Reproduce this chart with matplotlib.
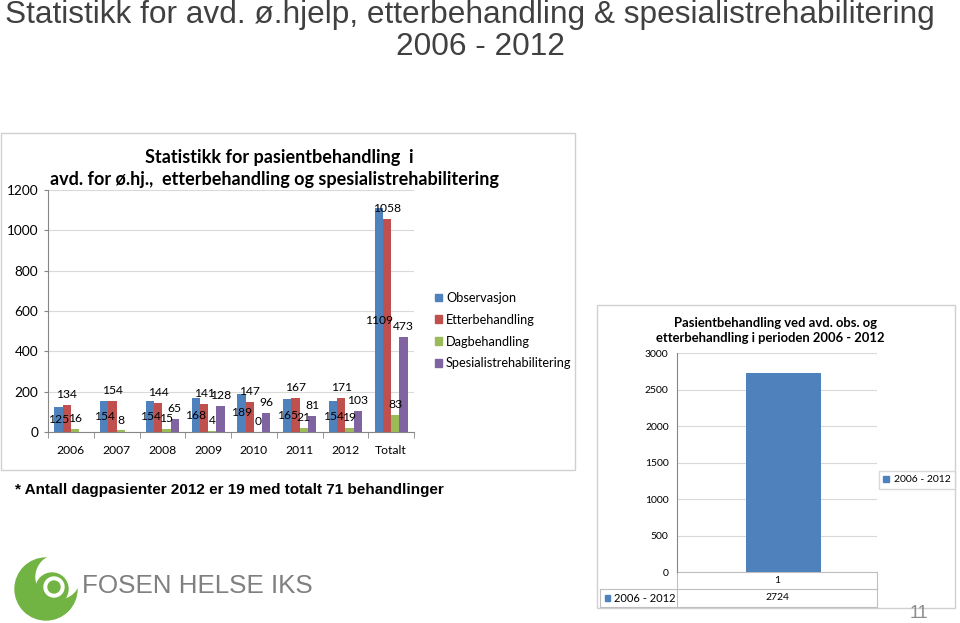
import numpy as np
import matplotlib
matplotlib.use("Agg")
import matplotlib.pyplot as plt
from matplotlib.patches import Rectangle, Circle, Patch

W, H = 960, 623

# data -----------------------------------------------------------------
years = ["2006", "2007", "2008", "2009", "2010", "2011", "2012", "Totalt"]
series_names = ["Observasjon", "Etterbehandling", "Dagbehandling",
                "Spesialistrehabilitering"]
observasjon = [125, 154, 154, 168, 189, 165, 154, 1109]
etterbehandling = [134, 154, 144, 141, 147, 167, 171, 1058]
dagbehandling = [16, 8, 15, 4, 0, 21, 19, 83]
spesialist = [None, None, 65, 128, 96, 81, 103, 473]

period_label = "2006 - 2012"
period_category = ["1"]
period_total = [2724]

# Excel 2007 palette
_COLOURS = ["#4F81BD", "#C0504D", "#9BBB59", "#8064A2"]
_GRID = "#D9D9D9"
_AXIS = "#868686"
CHART_FONT = ["Lato", "DejaVu Sans"]
SLIDE_FONT = ["Liberation Sans", "DejaVu Sans"]


def rect(x0, y0, x1, y1):
    """pixel box (y down) -> figure fraction rect"""
    return [x0 / W, 1 - y1 / H, (x1 - x0) / W, (y1 - y0) / H]


plt.rcParams["font.family"] = CHART_FONT
fig = plt.figure(figsize=(W / 100, H / 100), dpi=100)

# background layer in pixel coordinates
bg = fig.add_axes([0, 0, 1, 1])
bg.set_xlim(0, W)
bg.set_ylim(H, 0)
bg.axis("off")
bg.set_zorder(0)

bg.add_patch(Rectangle((1, 133), 574, 337, fill=False, ec="#D0D0D0", lw=1))
bg.add_patch(Rectangle((597, 305), 358, 303, fill=False, ec="#D0D0D0", lw=1))

# slide title and footnote
bg.text(5, 15, "Statistikk for avd. ø.hjelp, etterbehandling & spesialistrehabilitering",
        family=SLIDE_FONT, fontsize=22.8, color="#404040", ha="left", va="center")
bg.text(480, 47, "2006 - 2012", family=SLIDE_FONT, fontsize=22.8,
        color="#404040", ha="center", va="center")
bg.text(15, 490, "* Antall dagpasienter 2012 er 19 med totalt 71 behandlinger",
        family=SLIDE_FONT, fontsize=11, weight="bold", color="black",
        ha="left", va="center")
bg.text(919, 614, "11", family=SLIDE_FONT, fontsize=13, color="#8C8C8C",
        ha="center", va="center")

# logo
green = "#72B443"
bg.add_patch(Circle((46, 589), 31, color=green))
bg.add_patch(Circle((58, 577), 22, color="white"))
bg.add_patch(Circle((52, 589), 16, color=green))
bg.add_patch(Circle((54, 587), 10, color="white"))
bg.add_patch(Circle((54, 587), 6, color=green))
bg.text(82, 586, "FOSEN HELSE IKS", family=SLIDE_FONT, fontsize=18.7,
        color="#808080", ha="left", va="center")

# chart titles
bg.text(279, 157, "Statistikk for pasientbehandling  i", fontsize=13,
        weight="bold", ha="center", va="center")
bg.text(274, 180, "avd. for ø.hj.,  etterbehandling og spesialistrehabilitering",
        fontsize=13, weight="bold", ha="center", va="center")
bg.text(776, 323, "Pasientbehandling ved avd. obs. og", fontsize=9.4,
        weight="bold", ha="center", va="center")
bg.text(770, 338, "etterbehandling i perioden 2006 - 2012", fontsize=9.4,
        weight="bold", ha="center", va="center")

# left chart ----------------------------------------------------------
ax = fig.add_axes(rect(48, 190, 414, 432))
ax.set_zorder(2)
ax.set_facecolor("none")
x = np.arange(len(years))
bw = 0.18
all_series = [observasjon, etterbehandling, dagbehandling, spesialist]
for i, (vals, col) in enumerate(zip(all_series, _COLOURS)):
    xs = x + (i - 1.5) * bw
    v = np.array([np.nan if a is None else a for a in vals], dtype=float)
    ax.bar(xs, v, bw, color=col, zorder=3)
    for xi, val in zip(xs, vals):
        if val is None:
            continue
        if i == 0:
            ax.text(xi, val / 2, str(val), ha="center", va="center",
                    fontsize=8.7, zorder=4)
        else:
            ax.annotate(str(val), (xi, val), xytext=(0, 3.5),
                        textcoords="offset points", ha="center", va="bottom",
                        fontsize=8.7, zorder=4)

ax.set_xlim(-0.5, len(years) - 0.5)
ax.set_ylim(0, 1200)
ax.set_yticks(range(0, 1201, 200))
ax.set_xticks(x)
ax.set_xticklabels(years)
ax.set_xticks(np.arange(-0.5, len(years), 1), minor=True)
ax.tick_params(axis="x", which="major", length=0, pad=9, labelsize=8.7)
ax.tick_params(axis="x", which="minor", length=4, color=_AXIS)
ax.tick_params(axis="y", length=3, color=_AXIS, pad=4, labelsize=9.8)
ax.yaxis.grid(True, color=_GRID, lw=0.8, zorder=0)
ax.set_axisbelow(True)
for s in ("top", "right"):
    ax.spines[s].set_visible(False)
for s in ("left", "bottom"):
    ax.spines[s].set_color(_AXIS)

handles = [Patch(color=c, label=n) for c, n in zip(_COLOURS, series_names)]
ax.legend(handles=handles, loc="upper left", bbox_to_anchor=(430 / W, 1 - 287 / H),
          bbox_transform=fig.transFigure, frameon=False, fontsize=9.2,
          handlelength=0.55, handleheight=0.55, handletextpad=0.3,
          labelspacing=0.76, borderaxespad=0)

# right chart ---------------------------------------------------------
ax2 = fig.add_axes(rect(677, 353, 877, 572))
ax2.set_zorder(2)
ax2.set_facecolor("none")
x2 = np.arange(len(period_category))
ax2.bar(x2 + 0.03, period_total, 0.375, color=_COLOURS[0], zorder=3)
ax2.set_xlim(-0.5, 0.5)
ax2.set_ylim(0, 3000)
ax2.set_yticks(range(0, 3001, 500))
ax2.set_xticks([])
ax2.tick_params(axis="y", length=0, pad=6, labelsize=7.5)
ax2.yaxis.grid(True, color=_GRID, lw=0.8, zorder=0)
ax2.set_axisbelow(True)
for s in ("top", "right", "bottom"):
    ax2.spines[s].set_visible(False)
ax2.spines["left"].set_color(_AXIS)

# data table under the right chart
ph = 219.0
r1, r2 = -17 / ph, -35 / ph
xl = -77 / 200.0
tkw = dict(transform=ax2.transAxes, clip_on=False, color="#BFBFBF", lw=0.8)
ax2.plot([0, 1], [0, 0], **tkw)
ax2.plot([xl, 1], [r1, r1], **tkw)
ax2.plot([xl, 1], [r2, r2], **tkw)
ax2.plot([0, 0], [0, r2], **tkw)
ax2.plot([1, 1], [0, r2], **tkw)
ax2.plot([xl, xl], [r1, r2], **tkw)
ax2.text(0.5, r1 / 2, period_category[0], transform=ax2.transAxes,
         ha="center", va="center", fontsize=7.5)
ax2.text(0.5, (r1 + r2) / 2, str(period_total[0]), transform=ax2.transAxes,
         ha="center", va="center", fontsize=7.5)
ax2.text(xl + 0.07, (r1 + r2) / 2, period_label, transform=ax2.transAxes,
         ha="left", va="center", fontsize=8)
ax2.add_patch(Rectangle((xl + 0.025, (r1 + r2) / 2 - 0.013), 0.026, 0.026,
                        transform=ax2.transAxes, color=_COLOURS[0],
                        clip_on=False))

ax2.legend(handles=[Patch(color=_COLOURS[0], label=period_label)],
           loc="center left", bbox_to_anchor=(879 / W, 1 - 480 / H),
           bbox_transform=fig.transFigure, frameon=True, fontsize=7.5,
           handlelength=0.6, handleheight=0.6, handletextpad=0.4,
           borderaxespad=0, fancybox=False, edgecolor="#D0D0D0")

fig.savefig("out.png", dpi=100)
